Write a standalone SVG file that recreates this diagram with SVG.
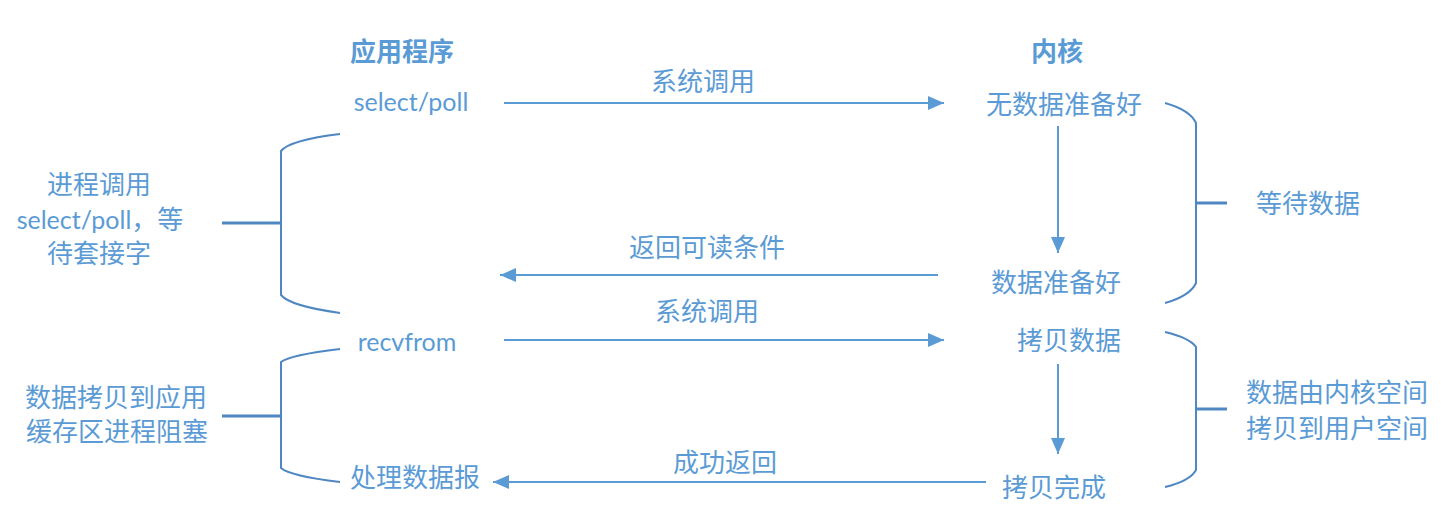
<svg xmlns="http://www.w3.org/2000/svg" width="1441" height="528" viewBox="0 0 1441 528">
  <style>
    text { font-family: "Noto Sans CJK SC", "Noto Sans", sans-serif; font-size: 26px; fill: #5B9BD5; text-anchor: middle; }
    .lat { font-family: Lato, "Liberation Sans", sans-serif; font-size: 25px; }
    .bold { font-weight: bold; }
    .arrow { stroke: #5B9BD5; stroke-width: 2; fill: none; marker-end: url(#ah); }
    .brace { stroke: #4F87C2; stroke-width: 2; fill: none; }
    .tick { stroke: #4F87C2; stroke-width: 3; fill: none; }
  </style>
  <defs>
    <marker id="ah" markerUnits="userSpaceOnUse" markerWidth="16" markerHeight="14" refX="16" refY="7" orient="auto">
      <path d="M0,0 L16,7 L0,14 z" fill="#5B9BD5"/>
    </marker>
  </defs>
  <rect width="1441" height="528" fill="#ffffff"/>

  <g id="headers">
    <text class="bold" x="402" y="61">应用程序</text>
    <text class="bold" x="1057" y="61">内核</text>
  </g>

  <g id="node-select-poll"><text class="lat" x="411" y="111">select/poll</text></g>
  <g id="node-recvfrom"><text class="lat" x="407" y="351">recvfrom</text></g>
  <g id="node-process-datagram"><text x="415" y="487">处理数据报</text></g>

  <g id="node-no-data"><text x="1064" y="114">无数据准备好</text></g>
  <g id="node-data-ready"><text x="1056" y="292">数据准备好</text></g>
  <g id="node-copy-data"><text x="1069" y="350">拷贝数据</text></g>
  <g id="node-copy-done"><text x="1054" y="497">拷贝完成</text></g>

  <g id="label-left-1">
    <text x="99" y="194">进程调用</text>
    <text x="100" y="229"><tspan class="lat">select/poll</tspan>，等</text>
    <text x="99" y="263">待套接字</text>
  </g>
  <g id="label-left-2">
    <text x="116" y="407">数据拷贝到应用</text>
    <text x="117" y="441">缓存区进程阻塞</text>
  </g>
  <g id="label-right-1"><text x="1308" y="213">等待数据</text></g>
  <g id="label-right-2">
    <text x="1337" y="402">数据由内核空间</text>
    <text x="1337" y="438">拷贝到用户空间</text>
  </g>

  <g id="braces">
    <path class="brace" d="M340,134 Q290,140 281,151 V295 Q290,306 340,313"/>
    <path class="tick" d="M222,223 H281"/>
    <path class="brace" d="M340,349 Q290,355 281,362 V468 Q290,476 340,482"/>
    <path class="tick" d="M222,416 H281"/>
    <path class="brace" d="M1165,103 Q1190,110 1196,123 V283 Q1190,296 1165,303"/>
    <path class="tick" d="M1196,203 H1227"/>
    <path class="brace" d="M1165,332 Q1190,338 1196,347 V470 Q1190,481 1165,487"/>
    <path class="tick" d="M1196,409 H1227"/>
  </g>

  <g id="connectors">
    <path class="arrow" d="M504,103 H944"/>
    <text x="703" y="91">系统调用</text>
    <path class="arrow" d="M1058,126 V253"/>
    <path class="arrow" d="M938,275 H500"/>
    <text x="707" y="257">返回可读条件</text>
    <path class="arrow" d="M504,340 H944"/>
    <text x="707" y="321">系统调用</text>
    <path class="arrow" d="M1058,364 V454"/>
    <path class="arrow" d="M986,482 H493"/>
    <text x="725" y="472">成功返回</text>
  </g>
</svg>
